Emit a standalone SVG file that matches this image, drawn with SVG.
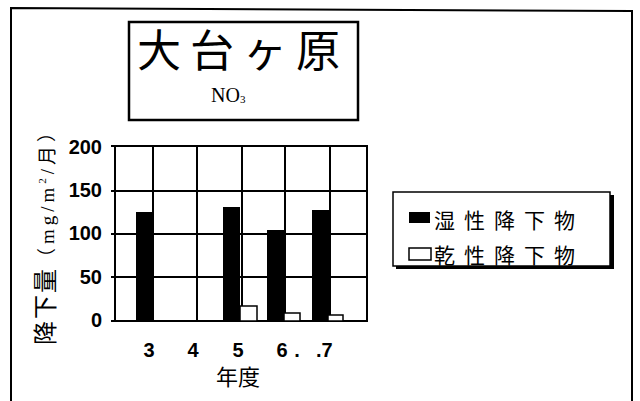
<svg xmlns="http://www.w3.org/2000/svg" width="640" height="401" viewBox="0 0 640 401">
<style>
.frame{fill:none;stroke:#000;stroke-width:2}
.grid{fill:none;stroke:#000;stroke-width:2}
.wet{fill:#000}
.dry{fill:#fff;stroke:#000;stroke-width:1.5}
.num{font-family:"Liberation Sans",Arial,sans-serif;font-weight:bold;font-size:20px;fill:#000}
.jp{font-family:"Noto Sans CJK JP","Noto Sans CJK SC",sans-serif;fill:#000}
</style>
<rect width="640" height="401" fill="#fff"/>
<g id="frame">
<polyline class="frame" points="11,401 11,8 632,11 632,401"/>
</g>
<g id="title">
<rect x="129" y="22" width="229" height="98" fill="#fff" stroke="#000" stroke-width="2.5"/>
<text class="jp" x="137" y="67" font-size="44" letter-spacing="9">大台ヶ原</text>
<text x="211" y="102" font-family="Liberation Serif,serif" font-size="20" fill="#000">NO<tspan font-size="11" dy="1">3</tspan></text>
</g>
<g id="yaxis-title">
<text class="jp" transform="translate(54,345) rotate(-90)"><tspan font-size="24" letter-spacing="2">降下量</tspan><tspan font-size="19" letter-spacing="4" font-family="Liberation Serif,'Noto Sans CJK JP',serif">（mg/m<tspan font-size="11" dy="-8">2</tspan><tspan dy="8">/月）</tspan></tspan></text>
</g>
<g id="y-ticks">
<text class="num" x="102" y="154" text-anchor="end">200</text>
<text class="num" x="102" y="197" text-anchor="end">150</text>
<text class="num" x="102" y="240" text-anchor="end">100</text>
<text class="num" x="102" y="284" text-anchor="end">50</text>
<text class="num" x="102" y="327" text-anchor="end">0</text>
<path d="M111 146H115M111 191H115M111 234H115M111 277H115M111 321H115" stroke="#000" stroke-width="2"/>
</g>
<g id="plot">
<rect class="grid" x="115" y="146" width="252" height="175"/>
<path class="grid" d="M115 191H367M115 234H367M115 277H367M153 146V321M197 146V321M242 146V321M285 146V321M330 146V321"/>
</g>
<g id="bars-wet">
<rect class="wet" x="136" y="212" width="17" height="109"/>
<rect class="wet" x="223" y="207" width="17" height="114"/>
<rect class="wet" x="267" y="230" width="17" height="91"/>
<rect class="wet" x="312" y="210" width="17" height="111"/>
</g>
<g id="bars-dry">
<rect class="dry" x="240" y="306" width="17" height="15"/>
<rect class="dry" x="284" y="313" width="16" height="8"/>
<rect class="dry" x="328" y="315" width="15" height="6"/>
</g>
<g id="x-labels">
<text class="num" x="149" y="357" text-anchor="middle">3</text>
<text class="num" x="193" y="357" text-anchor="middle">4</text>
<text class="num" x="238" y="357" text-anchor="middle">5</text>
<text class="num" x="282" y="357" text-anchor="middle">6</text>
<text class="num" x="297" y="357" text-anchor="middle">.</text>
<text class="num" x="316" y="357">.7</text>
<text class="jp" x="238" y="385" font-size="22" text-anchor="middle">年度</text>
</g>
<g id="legend">
<rect x="396" y="195" width="218" height="74" fill="#000"/>
<rect x="393" y="192" width="217" height="74" fill="#fff" stroke="#000" stroke-width="1.5"/>
<rect class="wet" x="409" y="212" width="21" height="11"/>
<text class="jp" x="434" y="228" font-size="21" letter-spacing="9">湿性降下物</text>
<rect class="dry" x="409" y="248" width="22" height="12"/>
<text class="jp" x="434" y="263" font-size="21" letter-spacing="9">乾性降下物</text>
</g>
</svg>
